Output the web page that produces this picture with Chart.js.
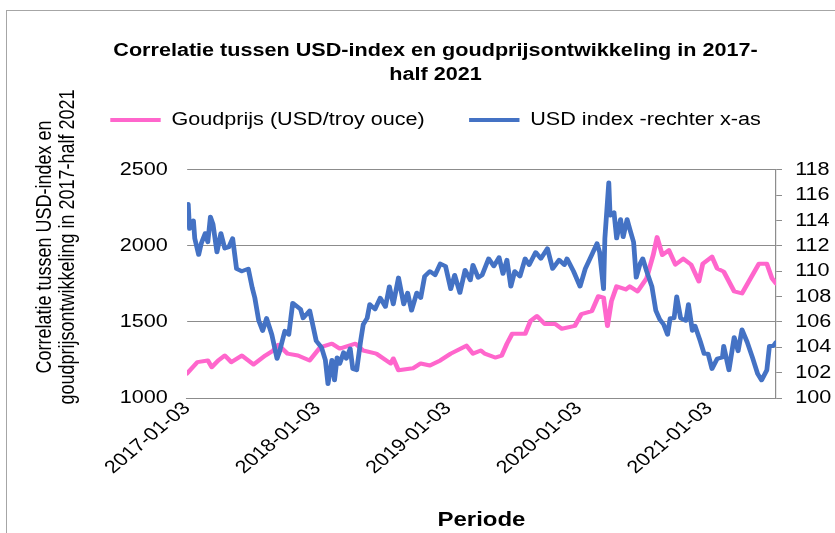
<!DOCTYPE html>
<html>
<head>
<meta charset="utf-8">
<script src="https://cdn.jsdelivr.net/npm/chart.js@4.4.1/dist/chart.umd.min.js"></script>
<style>
    html, body { margin: 0; padding: 0; background: #fff; }
    #wrap { position: relative; width: 835px; height: 533px; overflow: hidden; }
    #frame { position: absolute; left: 6px; top: 10px; right: -2px; bottom: -2px; border-left: 1px solid #a6a6a6; border-top: 1px solid #a6a6a6; }
    #chart { position: absolute; left: 0; top: 0; }
</style>
</head>
<body>
<div id="wrap">
    <div id="frame"></div>
    <canvas id="chart" width="696" height="533"></canvas>
</div>
<script>
// Tijdas als decimaal jaar
const tickYears = [2017, 2018, 2019, 2020, 2021];
const tickLabels = ['2017-01-03', '2018-01-03', '2019-01-03', '2020-01-03', '2021-01-03'];

// Goudprijs (USD/troy ounce), linker as
const goldYear = [2017.00, 2017.08, 2017.16, 2017.19, 2017.24, 2017.29, 2017.34, 2017.42, 2017.51, 2017.60,
    2017.66, 2017.70, 2017.77, 2017.85, 2017.94, 2018.02, 2018.11, 2018.17, 2018.29, 2018.35,
    2018.45, 2018.56, 2018.58, 2018.62, 2018.73, 2018.79, 2018.86, 2018.94, 2019.02, 2019.14,
    2019.19, 2019.25, 2019.28, 2019.36, 2019.41, 2019.45, 2019.49, 2019.59, 2019.63, 2019.68,
    2019.74, 2019.82, 2019.87, 2019.97, 2020.02, 2020.10, 2020.15, 2020.19, 2020.22, 2020.25,
    2020.29, 2020.36, 2020.39, 2020.45, 2020.52, 2020.57, 2020.60, 2020.64, 2020.69, 2020.74,
    2020.80, 2020.86, 2020.92, 2020.95, 2021.02, 2021.06, 2021.11, 2021.19, 2021.25, 2021.31,
    2021.38, 2021.44, 2021.48, 2021.51];
const goldPrice = [1160, 1236, 1247, 1203, 1247, 1279, 1236, 1279, 1221, 1279,
    1312, 1350, 1292, 1279, 1247, 1333, 1357, 1325, 1357, 1312,
    1292, 1227, 1260, 1182, 1195, 1227, 1214, 1247, 1292, 1344,
    1292, 1312, 1292, 1266, 1279, 1357, 1422, 1422, 1506, 1539,
    1487, 1487, 1455, 1474, 1552, 1571, 1669, 1660, 1474, 1636,
    1734, 1714, 1734, 1701, 1788, 1940, 2058, 1940, 1972, 1877,
    1916, 1877, 1766, 1883, 1929, 1851, 1831, 1701, 1688, 1779,
    1883, 1883, 1786, 1753];

// USD index, rechter as
const usdYear = [2017.01, 2017.02, 2017.05, 2017.06, 2017.09, 2017.11, 2017.14, 2017.16, 2017.18, 2017.20,
    2017.23, 2017.26, 2017.29, 2017.32, 2017.35, 2017.38, 2017.42, 2017.47, 2017.50, 2017.52,
    2017.55, 2017.58, 2017.61, 2017.65, 2017.69, 2017.71, 2017.75, 2017.78, 2017.81, 2017.87,
    2017.89, 2017.94, 2017.99, 2018.03, 2018.06, 2018.08, 2018.11, 2018.13, 2018.15, 2018.17,
    2018.20, 2018.22, 2018.25, 2018.27, 2018.30, 2018.33, 2018.35, 2018.38, 2018.40, 2018.44,
    2018.48, 2018.52, 2018.55, 2018.58, 2018.62, 2018.66, 2018.69, 2018.72, 2018.76, 2018.79,
    2018.82, 2018.86, 2018.90, 2018.94, 2018.98, 2019.02, 2019.05, 2019.09, 2019.13, 2019.17,
    2019.19, 2019.23, 2019.26, 2019.31, 2019.35, 2019.39, 2019.42, 2019.45, 2019.48, 2019.51,
    2019.55, 2019.59, 2019.62, 2019.67, 2019.71, 2019.76, 2019.80, 2019.85, 2019.89, 2019.91,
    2019.96, 2020.01, 2020.05, 2020.10, 2020.14, 2020.16, 2020.19, 2020.20, 2020.23, 2020.24,
    2020.27, 2020.29, 2020.32, 2020.34, 2020.37, 2020.39, 2020.42, 2020.44, 2020.47, 2020.49,
    2020.52, 2020.56, 2020.59, 2020.62, 2020.65, 2020.68, 2020.70, 2020.73, 2020.75, 2020.78,
    2020.82, 2020.84, 2020.87, 2020.89, 2020.93, 2020.96, 2020.99, 2021.02, 2021.06, 2021.10,
    2021.11, 2021.15, 2021.19, 2021.22, 2021.25, 2021.29, 2021.33, 2021.37, 2021.40, 2021.44,
    2021.46, 2021.49, 2021.51];
const usdIndex = [115.3, 113.35, 114.0, 112.6, 111.3, 112.2, 113.0, 112.3, 114.3, 113.7,
    111.5, 113.0, 111.8, 111.9, 112.6, 110.2, 110.0, 110.2, 108.7, 107.9,
    106.1, 105.3, 106.3, 105.0, 103.1, 103.7, 105.3, 105.0, 107.5, 107.0,
    106.3, 106.9, 104.5, 104.0, 103.0, 101.1, 103.0, 101.4, 103.2, 102.7,
    103.6, 103.1, 103.9, 102.3, 102.2, 104.5, 105.8, 106.3, 107.4, 107.0,
    107.9, 107.2, 108.8, 107.4, 109.5, 107.4, 108.3, 106.9, 108.3, 107.9,
    109.6, 110.0, 109.7, 110.6, 110.4, 108.6, 109.7, 108.3, 110.1, 109.3,
    110.5, 109.5, 109.7, 111.0, 110.4, 111.1, 109.8, 110.9, 108.8, 110.0,
    109.6, 111.0, 110.5, 111.5, 111.0, 111.8, 110.2, 110.9, 110.5, 111.0,
    110.0, 108.8, 110.2, 111.3, 112.2, 111.5, 108.6, 112.6, 117.0, 114.4,
    114.65, 112.6, 114.1, 112.7, 114.1, 113.35, 112.3, 109.5, 110.6, 111.0,
    110.0, 108.8, 106.9, 106.2, 105.8, 105.0, 106.3, 106.3, 108.0, 106.3,
    106.1, 107.4, 105.3, 105.7, 104.5, 103.5, 103.5, 102.3, 103.1, 103.2,
    104.1, 102.2, 104.8, 103.7, 105.4, 104.4, 103.2, 101.9, 101.4, 102.2,
    104.1, 104.1, 104.4];

const toPoints = (xs, ys) => xs.map((x, i) => ({ x: x, y: ys[i] }));

// het origineel is horizontaal uitgerekt (Excel-export)
const OUT_WIDTH = 835;
const STRETCH = OUT_WIDTH / 696;

const fontFamily = "'Liberation Sans', Arial, sans-serif";
const axisGrey = '#8c8c8c';

Chart.defaults.font.family = fontFamily;
Chart.defaults.color = '#000';

// Titel van de linker as (twee regels, gedraaid)
const yTitlePlugin = {
    id: 'yTitle',
    afterDraw(chart) {
        const ctx = chart.ctx;
        const lines = ['Correlatie tussen USD-index en', 'goudprijsontwikkeling in 2017-half 2021'];
        ctx.save();
        ctx.font = '18px ' + fontFamily;
        ctx.fillStyle = '#000';
        ctx.textAlign = 'center';
        ctx.textBaseline = 'middle';
        ctx.translate(37.5, 247);
        ctx.rotate(-Math.PI / 2);
        lines.forEach((line, i) => ctx.fillText(line, 0, i * 19.2));
        ctx.restore();
    }
};

const canvas = document.getElementById('chart');
const chart = new Chart(canvas, {
    type: 'line',
    data: {
        datasets: [
            {
                label: 'Goudprijs (USD/troy ouce)',
                data: toPoints(goldYear, goldPrice),
                borderColor: '#ff66cc',
                backgroundColor: '#ff66cc',
                borderWidth: 4,
                borderJoinStyle: 'round',
                borderCapStyle: 'round',
                pointRadius: 0,
                tension: 0,
                yAxisID: 'y',
                order: 1
            },
            {
                label: 'USD index -rechter x-as',
                data: toPoints(usdYear, usdIndex),
                borderColor: '#4472c4',
                backgroundColor: '#4472c4',
                borderWidth: 4,
                borderJoinStyle: 'round',
                borderCapStyle: 'round',
                pointRadius: 0,
                tension: 0,
                yAxisID: 'y2',
                order: 0
            }
        ]
    },
    options: {
        responsive: false,
        animation: false,
        layout: { padding: { left: 30, right: 0, top: 20, bottom: 0 } },
        plugins: {
            title: {
                display: true,
                text: ['Correlatie tussen USD-index en goudprijsontwikkeling in 2017-', 'half 2021'],
                font: { size: 18, weight: 'bold', lineHeight: 1.33 },
                color: '#000',
                padding: { top: 19, bottom: -13 }
            },
            // lege ondertitel als ruimte tussen legenda en grafiek
            subtitle: {
                display: true,
                text: '',
                weight: 500,
                font: { size: 10, lineHeight: 1 },
                padding: { top: 10, bottom: 11 }
            },
            legend: {
                display: true,
                labels: {
                    boxWidth: 42,
                    boxHeight: 4,
                    padding: 37,
                    font: { size: 18 },
                    sort: (a, b) => a.datasetIndex - b.datasetIndex,
                    generateLabels: (c) => Chart.defaults.plugins.legend.labels
                        .generateLabels(c).map(l => ({ ...l, lineWidth: 0 }))
                }
            },
            tooltip: { enabled: false }
        },
        scales: {
            x: {
                type: 'linear',
                min: 2017.0,
                max: 2021.51,
                afterBuildTicks: (axis) => { axis.ticks = tickYears.map(v => ({ value: v })); },
                afterFit: (axis) => { axis.height = 135; },
                grid: { display: false, drawTicks: false },
                border: { display: true, color: axisGrey },
                ticks: {
                    autoSkip: false,
                    minRotation: 45,
                    maxRotation: 45,
                    padding: 0,
                    font: { size: 18 },
                    callback: (v) => tickLabels[tickYears.indexOf(v)] || ''
                },
                title: {
                    display: true,
                    text: 'Periode',
                    font: { size: 20, weight: 'bold' },
                    padding: { top: 0, bottom: 1 }
                }
            },
            y: {
                position: 'left',
                min: 1000,
                max: 2500,
                afterFit: (axis) => { axis.width = 125.8; },
                grid: { color: axisGrey, drawTicks: false },
                border: { display: false },
                ticks: { stepSize: 500, padding: 16, font: { size: 18 }, callback: (v) => String(v) }
            },
            y2: {
                position: 'right',
                min: 100,
                max: 118,
                afterFit: (axis) => { axis.width = 49.2; },
                grid: { drawOnChartArea: false, drawTicks: true, tickLength: 5, color: axisGrey },
                border: { display: true, color: axisGrey },
                ticks: { stepSize: 2, padding: 11, font: { size: 18 }, callback: (v) => String(v) }
            }
        }
    },
    plugins: [yTitlePlugin]
});

// opnieuw tekenen op volle breedte, horizontaal uitgerekt
canvas.width = OUT_WIDTH;
canvas.style.width = OUT_WIDTH + 'px';
chart.ctx.setTransform(STRETCH, 0, 0, 1, 0, 0);
chart.draw();
</script>
</body>
</html>
